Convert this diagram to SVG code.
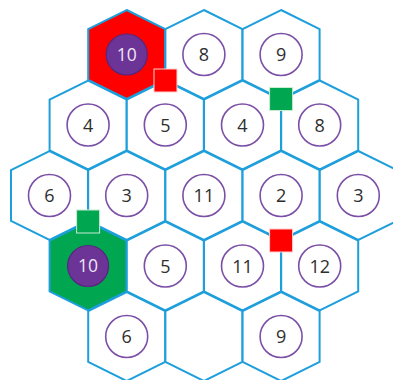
<svg xmlns="http://www.w3.org/2000/svg" xmlns:xlink="http://www.w3.org/1999/xlink" width="393" height="380" viewBox="0 0 393 380">
<style>
.hex{fill:#ffffff;stroke:#1e9fdb;stroke-width:2;stroke-linejoin:miter}
.red{fill:#ff0000}
.green{fill:#00a650}
.ring{fill:none;stroke:#7b4fa6;stroke-width:1.6}
.disc{fill:#6b3496;stroke:#56277d;stroke-width:1.2}
.num{font-family:"Open Sans","Noto Sans","Liberation Sans",sans-serif;font-size:18px;fill:#2e2e2e;text-anchor:middle}
.numw{font-family:"Open Sans","Noto Sans","Liberation Sans",sans-serif;font-size:17.5px;fill:#eee6f4;text-anchor:middle}
.sqr{fill:#ff0000;stroke:#ffd0d0;stroke-width:1}
.sqg{fill:#00a650;stroke:#c8ecd0;stroke-width:1}
</style>
<defs>
<polygon id="hx" points="0,-44.5 38.5,-25.5 38.5,25.5 0,44.5 -38.5,25.5 -38.5,-25.5"/>
</defs>
<rect width="393" height="380" fill="#ffffff"/>
<g id="tiles">
<g id="t1"><use xlink:href="#hx" class="hex red" x="126.7" y="54.5"/><circle class="disc" cx="126.7" cy="54.5" r="20.5"/><text class="numw" x="126.7" y="60.7">10</text></g>
<g id="t2"><use xlink:href="#hx" class="hex" x="203.9" y="54.5"/><circle class="ring" cx="203.9" cy="54.5" r="21"/><text class="num" x="203.9" y="61">8</text></g>
<g id="t3"><use xlink:href="#hx" class="hex" x="281.1" y="54.5"/><circle class="ring" cx="281.1" cy="54.5" r="21"/><text class="num" x="281.1" y="61">9</text></g>

<g id="t4"><use xlink:href="#hx" class="hex" x="88.1" y="125"/><circle class="ring" cx="88.1" cy="125" r="21"/><text class="num" x="88.1" y="131.5">4</text></g>
<g id="t5"><use xlink:href="#hx" class="hex" x="165.3" y="125"/><circle class="ring" cx="165.3" cy="125" r="21"/><text class="num" x="165.3" y="131.5">5</text></g>
<g id="t6"><use xlink:href="#hx" class="hex" x="242.5" y="125"/><circle class="ring" cx="242.5" cy="125" r="21"/><text class="num" x="242.5" y="131.5">4</text></g>
<g id="t7"><use xlink:href="#hx" class="hex" x="319.7" y="125"/><circle class="ring" cx="319.7" cy="125" r="21"/><text class="num" x="319.7" y="131.5">8</text></g>

<g id="t8"><use xlink:href="#hx" class="hex" x="49.5" y="195.5"/><circle class="ring" cx="49.5" cy="195.5" r="21"/><text class="num" x="49.5" y="202">6</text></g>
<g id="t9"><use xlink:href="#hx" class="hex" x="126.7" y="195.5"/><circle class="ring" cx="126.7" cy="195.5" r="21"/><text class="num" x="126.7" y="202">3</text></g>
<g id="t10"><use xlink:href="#hx" class="hex" x="203.9" y="195.5"/><circle class="ring" cx="203.9" cy="195.5" r="21"/><text class="num" x="203.9" y="202">11</text></g>
<g id="t11"><use xlink:href="#hx" class="hex" x="281.1" y="195.5"/><circle class="ring" cx="281.1" cy="195.5" r="21"/><text class="num" x="281.1" y="202">2</text></g>
<g id="t12"><use xlink:href="#hx" class="hex" x="358.3" y="195.5"/><circle class="ring" cx="358.3" cy="195.5" r="21"/><text class="num" x="358.3" y="202">3</text></g>

<g id="t13"><use xlink:href="#hx" class="hex green" x="88.1" y="266"/><circle class="disc" cx="88.1" cy="266" r="20.5"/><text class="numw" x="88.1" y="272.2">10</text></g>
<g id="t14"><use xlink:href="#hx" class="hex" x="165.3" y="266"/><circle class="ring" cx="165.3" cy="266" r="21"/><text class="num" x="165.3" y="272.5">5</text></g>
<g id="t15"><use xlink:href="#hx" class="hex" x="242.5" y="266"/><circle class="ring" cx="242.5" cy="266" r="21"/><text class="num" x="242.5" y="272.5">11</text></g>
<g id="t16"><use xlink:href="#hx" class="hex" x="319.7" y="266"/><circle class="ring" cx="319.7" cy="266" r="21"/><text class="num" x="319.7" y="272.5">12</text></g>

<g id="t17"><use xlink:href="#hx" class="hex" x="126.7" y="336.5"/><circle class="ring" cx="126.7" cy="336.5" r="21"/><text class="num" x="126.7" y="343">6</text></g>
<g id="t18"><use xlink:href="#hx" class="hex" x="203.9" y="336.5"/></g>
<g id="t19"><use xlink:href="#hx" class="hex" x="281.1" y="336.5"/><circle class="ring" cx="281.1" cy="336.5" r="21"/><text class="num" x="281.1" y="343">9</text></g>
</g>
<g id="markers">
<g id="m1"><rect class="sqr" x="154" y="69" width="23" height="23"/></g>
<g id="m2"><rect class="sqg" x="269.6" y="87.5" width="23" height="23"/></g>
<g id="m3"><rect class="sqg" x="76.6" y="210" width="23" height="23"/></g>
<g id="m4"><rect class="sqr" x="269.6" y="229" width="23" height="23"/></g>
</g>
</svg>
